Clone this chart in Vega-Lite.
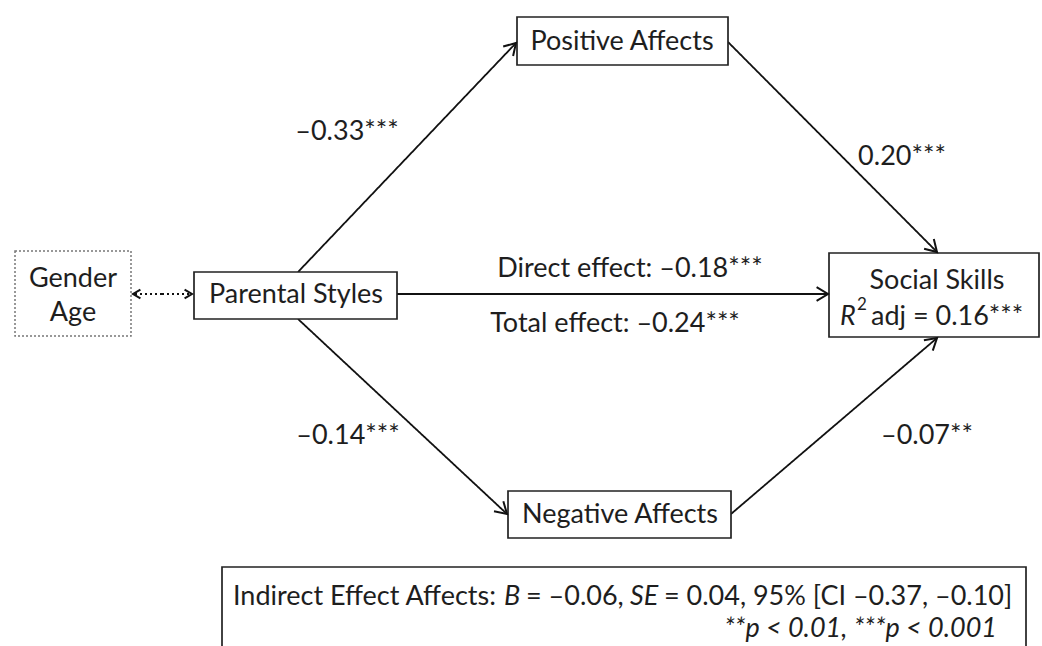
{
  "$schema": "https://vega.github.io/schema/vega-lite/v6.json",
  "width": 1042,
  "height": 646,
  "autosize": {"type": "fit", "contains": "padding"},
  "padding": 0,
  "background": "white",
  "config": {
    "view": {"stroke": null},
    "text": {"font": "Lato", "fontSize": 27, "color": "#1e1e1e", "baseline": "middle"}
  },
  "datasets": {
    "boxes": [
      {"id": "gender", "x1": 15, "x2": 131, "y1": 251, "y2": 336, "line": "dotted"},
      {"id": "parental", "x1": 194, "x2": 397, "y1": 272, "y2": 319, "line": "solid"},
      {"id": "positive", "x1": 517, "x2": 728, "y1": 17, "y2": 65, "line": "solid"},
      {"id": "negative", "x1": 508, "x2": 731, "y1": 491, "y2": 538, "line": "solid"},
      {"id": "social", "x1": 829, "x2": 1039, "y1": 253, "y2": 337, "line": "solid"},
      {"id": "note", "x1": 222, "x2": 1026, "y1": 567, "y2": 680, "line": "solid"}
    ],
    "edges": [
      {"from": "parental", "to": "positive", "x1": 298, "y1": 272, "x2": 516, "y2": 43, "line": "solid"},
      {"from": "positive", "to": "social", "x1": 728, "y1": 42, "x2": 937, "y2": 252, "line": "solid"},
      {"from": "parental", "to": "social", "x1": 397, "y1": 294, "x2": 828, "y2": 294, "line": "solid"},
      {"from": "parental", "to": "negative", "x1": 298, "y1": 319, "x2": 507, "y2": 514, "line": "solid"},
      {"from": "negative", "to": "social", "x1": 731, "y1": 514, "x2": 937, "y2": 338, "line": "solid"},
      {"from": "covariates", "to": "gender", "x1": 162, "y1": 294, "x2": 133, "y2": 294, "line": "dotted"},
      {"from": "covariates", "to": "parental", "x1": 162, "y1": 294, "x2": 192, "y2": 294, "line": "dotted"}
    ],
    "labels": [
      {"text": "Gender", "x": 73, "y": 279, "role": "center"},
      {"text": "Age", "x": 73, "y": 313, "role": "center"},
      {"text": "Parental Styles", "x": 296, "y": 295, "role": "center"},
      {"text": "Positive Affects", "x": 622, "y": 42, "role": "center"},
      {"text": "Negative Affects", "x": 620, "y": 515, "role": "center"},
      {"text": "Social Skills", "x": 937, "y": 281, "role": "center"},
      {"text": "–0.33***", "x": 347, "y": 132, "role": "center"},
      {"text": "0.20***", "x": 902, "y": 157, "role": "center"},
      {"text": "Direct effect: –0.18***", "x": 630, "y": 269, "role": "center"},
      {"text": "Total effect: –0.24***", "x": 615, "y": 324, "role": "center"},
      {"text": "–0.14***", "x": 348, "y": 436, "role": "center"},
      {"text": "–0.07**", "x": 927, "y": 436, "role": "center"},
      {"text": "R", "x": 840, "y": 317, "role": "leftItalic"},
      {"text": "2", "x": 857, "y": 305, "role": "sup"},
      {"text": "adj = 0.16***", "x": 871, "y": 317, "role": "left"},
      {"text": "Indirect Effect Affects:", "x": 233, "y": 597, "role": "left"},
      {"text": "B", "x": 504, "y": 597, "role": "leftItalic"},
      {"text": "= –0.06,", "x": 526, "y": 597, "role": "left"},
      {"text": "SE", "x": 630, "y": 597, "role": "leftItalic"},
      {"text": "= 0.04, 95% [CI –0.37, –0.10]", "x": 664, "y": 597, "role": "left"},
      {"text": "**p < 0.01, ***p < 0.001", "x": 997, "y": 629, "role": "rightItalic"}
    ]
  },
  "layer": [
    {
      "data": {"name": "edges"},
      "mark": {"type": "rule", "stroke": "#111111", "strokeWidth": 1.8},
      "encoding": {
        "x": {"field": "x1", "type": "quantitative", "scale": {"domain": [0, 1042], "nice": false, "zero": false}, "axis": null},
        "x2": {"field": "x2"},
        "y": {"field": "y1", "type": "quantitative", "scale": {"domain": [0, 646], "nice": false, "zero": false, "reverse": true}, "axis": null},
        "y2": {"field": "y2"},
        "strokeDash": {"field": "line", "type": "nominal", "scale": {"domain": ["solid", "dotted"], "range": [[1, 0], [2, 3]]}, "legend": null}
      }
    },
    {
      "data": {"name": "boxes"},
      "transform": [{"filter": "datum.line == 'solid'"}],
      "mark": {"type": "rect", "fill": "white", "stroke": "#222222", "strokeWidth": 1.7, "clip": true},
      "encoding": {
        "x": {"field": "x1", "type": "quantitative", "axis": null},
        "x2": {"field": "x2"},
        "y": {"field": "y1", "type": "quantitative", "axis": null},
        "y2": {"field": "y2"}
      }
    },
    {
      "data": {"name": "boxes"},
      "transform": [{"filter": "datum.line == 'dotted'"}],
      "mark": {"type": "rect", "fill": "white", "stroke": "#777777", "strokeWidth": 1.5, "strokeDash": [2, 2]},
      "encoding": {
        "x": {"field": "x1", "type": "quantitative", "axis": null},
        "x2": {"field": "x2"},
        "y": {"field": "y1", "type": "quantitative", "axis": null},
        "y2": {"field": "y2"}
      }
    },
    {
      "data": {"name": "edges"},
      "transform": [{"calculate": "atan2(datum.y2 - datum.y1, datum.x2 - datum.x1) * 180 / PI", "as": "angle"}],
      "mark": {"type": "point", "shape": "M -1 -0.6 L 0 0 L -1 0.6", "filled": false, "stroke": "#111111", "strokeWidth": 2, "opacity": 1, "strokeJoin": "miter"},
      "encoding": {
        "x": {"field": "x2", "type": "quantitative", "axis": null},
        "y": {"field": "y2", "type": "quantitative", "axis": null},
        "angle": {"field": "angle", "type": "quantitative", "scale": null},
        "size": {"field": "line", "type": "nominal", "scale": {"domain": ["solid", "dotted"], "range": [520, 220]}, "legend": null}
      }
    },
    {
      "data": {"name": "labels"},
      "transform": [{"filter": "datum.role == 'center'"}],
      "mark": {"type": "text", "align": "center"},
      "encoding": {
        "x": {"field": "x", "type": "quantitative", "axis": null},
        "y": {"field": "y", "type": "quantitative", "axis": null},
        "text": {"field": "text"}
      }
    },
    {
      "data": {"name": "labels"},
      "transform": [{"filter": "datum.role == 'left'"}],
      "mark": {"type": "text", "align": "left"},
      "encoding": {
        "x": {"field": "x", "type": "quantitative", "axis": null},
        "y": {"field": "y", "type": "quantitative", "axis": null},
        "text": {"field": "text"}
      }
    },
    {
      "data": {"name": "labels"},
      "transform": [{"filter": "datum.role == 'leftItalic'"}],
      "mark": {"type": "text", "align": "left", "fontStyle": "italic"},
      "encoding": {
        "x": {"field": "x", "type": "quantitative", "axis": null},
        "y": {"field": "y", "type": "quantitative", "axis": null},
        "text": {"field": "text"}
      }
    },
    {
      "data": {"name": "labels"},
      "transform": [{"filter": "datum.role == 'sup'"}],
      "mark": {"type": "text", "align": "left", "fontSize": 17},
      "encoding": {
        "x": {"field": "x", "type": "quantitative", "axis": null},
        "y": {"field": "y", "type": "quantitative", "axis": null},
        "text": {"field": "text"}
      }
    },
    {
      "data": {"name": "labels"},
      "transform": [{"filter": "datum.role == 'rightItalic'"}],
      "mark": {"type": "text", "align": "right", "fontStyle": "italic"},
      "encoding": {
        "x": {"field": "x", "type": "quantitative", "axis": null},
        "y": {"field": "y", "type": "quantitative", "axis": null},
        "text": {"field": "text"}
      }
    }
  ]
}
